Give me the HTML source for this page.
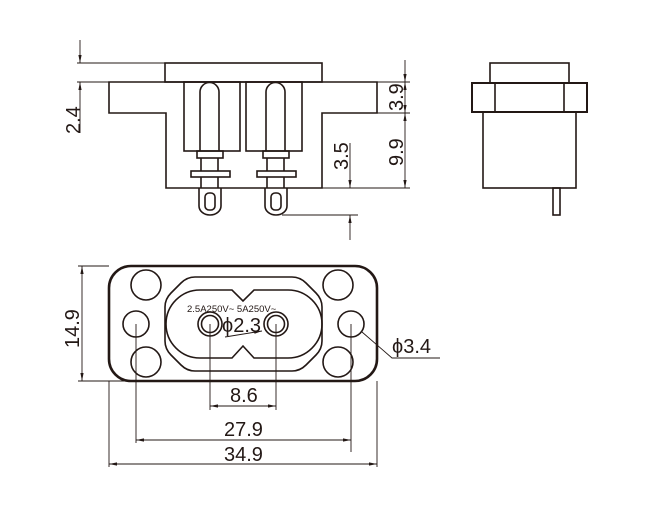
<!DOCTYPE html>
<html><head><meta charset="utf-8"><style>
html,body{margin:0;padding:0;background:#fff;width:661px;height:521px;overflow:hidden}
svg{display:block}
text{font-family:"Liberation Sans",Arial,sans-serif;fill:#231815}
</style></head><body>
<svg width="661" height="521" viewBox="0 0 661 521" xmlns="http://www.w3.org/2000/svg">
<defs>
<marker id="a" viewBox="0 0 10 10" refX="10" refY="5" markerWidth="8" markerHeight="8" orient="auto-start-reverse" markerUnits="userSpaceOnUse"><path d="M0,3 L10,5 L0,7 Z" fill="#231815"/></marker>
</defs>
<g fill="none" stroke="#231815" stroke-width="1.6">
<rect x="165" y="63" width="157" height="19"/>
<path d="M109,82 H377 V113 H322 V188 H166 V113 H109 Z"/>
<rect x="184" y="82" width="56" height="69"/>
<rect x="246" y="82" width="56" height="69"/>
<g id="pin">
<path d="M200,151 V92 A9.5,9.5 0 0 1 219,92 V151"/>
<rect x="197" y="151" width="26" height="7"/>
<path d="M201,158 V171 M218,158 V171 M201,177 V188 M218,177 V188"/>
<rect x="191" y="171" width="39" height="6"/>
<path d="M199,188 V206 A11,9 0 0 0 221,206 V188"/>
<rect x="205" y="193" width="10" height="17" rx="4"/>
</g>
<use href="#pin" x="66"/>
<rect x="490" y="63" width="79" height="20"/>
<rect x="472" y="83" width="115" height="29" stroke-width="2"/>
<path d="M495,83 V112 M564,83 V112"/>
<rect x="483" y="112" width="93" height="76"/>
<rect x="553" y="188" width="7" height="27"/>
<rect x="109" y="266" width="268" height="115" rx="22" stroke-width="2.6"/>
<circle cx="146" cy="285" r="15"/><circle cx="146" cy="362" r="15"/>
<circle cx="338" cy="285" r="15"/><circle cx="338" cy="362" r="15"/>
<circle cx="136" cy="324" r="13"/><circle cx="351" cy="324" r="13"/>
<path d="M195,277 L292,277 Q300,277 306,283 L316,293 Q322,299 322,307 L322,341 Q322,349 316,355 L306,365 Q300,371 292,371 L195,371 Q187,371 181,365 L171,355 Q165,349 165,341 L165,307 Q165,299 171,293 L181,283 Q187,277 195,277 Z"/>
<path d="M200,290 L232,290 L243,301 L254,290 L288,290 A34,34 0 0 1 288,358 L254,358 L243,346 L232,358 L200,358 A34,34 0 0 1 200,290 Z"/>
<circle cx="210" cy="324" r="12"/><circle cx="210" cy="324" r="8.5"/>
<circle cx="276" cy="324" r="12"/><circle cx="276" cy="324" r="8.5"/>
</g>
<g fill="none" stroke="#231815" stroke-width="0.9">
<path d="M77,63 H165 M77,82 H109"/>
<line x1="80" y1="40" x2="80" y2="63" marker-end="url(#a)"/>
<line x1="80" y1="133" x2="80" y2="82" marker-end="url(#a)"/>
<path d="M377,82 H410 M377,113 H410 M322,188 H410"/>
<line x1="405" y1="60" x2="405" y2="82" marker-end="url(#a)"/>
<line x1="405" y1="97" x2="405" y2="82" marker-end="url(#a)"/>
<line x1="405" y1="97" x2="405" y2="113" marker-end="url(#a)"/>
<line x1="405" y1="150" x2="405" y2="113" marker-end="url(#a)"/>
<line x1="405" y1="150" x2="405" y2="188" marker-end="url(#a)"/>
<path d="M282,215 H358"/>
<line x1="350" y1="143" x2="350" y2="188" marker-end="url(#a)"/>
<line x1="350" y1="240" x2="350" y2="215" marker-end="url(#a)"/>
<path d="M78,266 H109 M78,381 H150"/>
<line x1="82" y1="324" x2="82" y2="266" marker-end="url(#a)"/>
<line x1="82" y1="324" x2="82" y2="381" marker-end="url(#a)"/>
<path d="M210,324 V410 M276,324 V410 M136,324 V443 M351,324 V452 M109,381 V467 M377,381 V467"/>
<line x1="243" y1="406" x2="210" y2="406" marker-end="url(#a)"/>
<line x1="243" y1="406" x2="276" y2="406" marker-end="url(#a)"/>
<line x1="243" y1="440" x2="136" y2="440" marker-end="url(#a)"/>
<line x1="243" y1="440" x2="351" y2="440" marker-end="url(#a)"/>
<line x1="243" y1="464" x2="109" y2="464" marker-end="url(#a)"/>
<line x1="243" y1="464" x2="377" y2="464" marker-end="url(#a)"/>
<path d="M362,332 L392,358 H440"/>
<line x1="225" y1="337" x2="262" y2="331" marker-end="url(#a)"/>
</g>
<g font-size="20">
<text transform="translate(80,134) rotate(-90)">2.4</text>
<text transform="translate(403,111) rotate(-90)">3.9</text>
<text transform="translate(403,166) rotate(-90)">9.9</text>
<text transform="translate(348,170) rotate(-90)">3.5</text>
<text transform="translate(79,348) rotate(-90)">14.9</text>
<text x="230" y="402">8.6</text>
<text x="224" y="436">27.9</text>
<text x="224" y="461">34.9</text>
<text x="392" y="353">ϕ3.4</text>
<text x="222" y="332">ϕ2.3</text>
</g>
<text x="187" y="312" font-size="9.5">2.5A250V~ 5A250V~</text>
</svg>
</body></html>
